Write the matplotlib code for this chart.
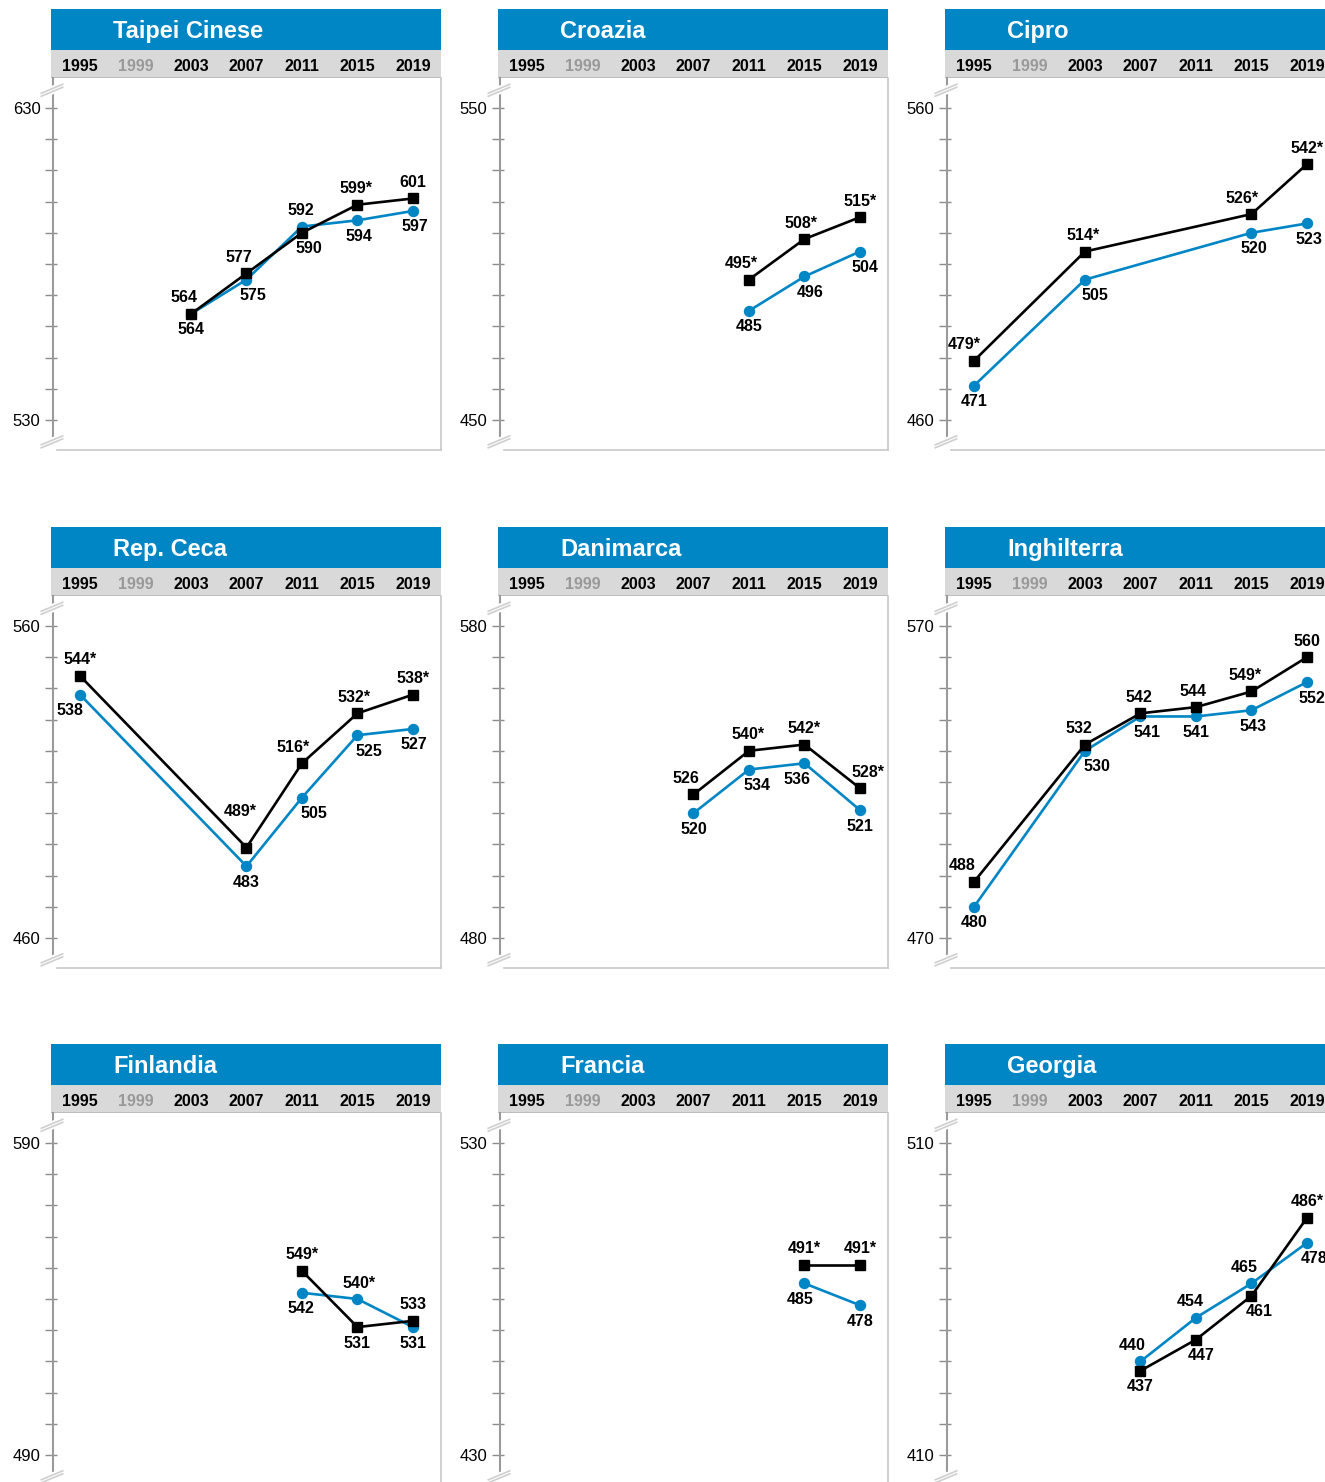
import matplotlib
matplotlib.use('Agg')
import matplotlib.pyplot as plt

plt.rcParams['font.family'] = ['Liberation Sans', 'DejaVu Sans']

years = [1995, 1999, 2003, 2007, 2011, 2015, 2019]
countries = ['Taipei Cinese', 'Croazia', 'Cipro',
             'Rep. Ceca', 'Danimarca', 'Inghilterra',
             'Finlandia', 'Francia', 'Georgia']
y_low = [530, 450, 460, 460, 480, 470, 490, 430, 410]

black_years = [[2003, 2007, 2011, 2015, 2019], [2011, 2015, 2019], [1995, 2003, 2015, 2019],
               [1995, 2007, 2011, 2015, 2019], [2007, 2011, 2015, 2019], [1995, 2003, 2007, 2011, 2015, 2019],
               [2011, 2015, 2019], [2015, 2019], [2007, 2011, 2015, 2019]]
black_vals = [[564, 577, 590, 599, 601], [495, 508, 515], [479, 514, 526, 542],
              [544, 489, 516, 532, 538], [526, 540, 542, 528], [488, 532, 542, 544, 549, 560],
              [549, 531, 533], [491, 491], [437, 447, 461, 486]]
black_labels = [['564', '577', '590', '599*', '601'], ['495*', '508*', '515*'], ['479*', '514*', '526*', '542*'],
                ['544*', '489*', '516*', '532*', '538*'], ['526', '540*', '542*', '528*'],
                ['488', '532', '542', '544', '549*', '560'],
                ['549*', '531', '533'], ['491*', '491*'], ['437', '447', '461', '486*']]

blue_years = black_years
blue_vals = [[564, 575, 592, 594, 597], [485, 496, 504], [471, 505, 520, 523],
             [538, 483, 505, 525, 527], [520, 534, 536, 521], [480, 530, 541, 541, 543, 552],
             [542, 540, 531], [485, 478], [440, 454, 465, 478]]
blue_labels = [['564', '575', '592', '594', '597'], ['485', '496', '504'], ['471', '505', '520', '523'],
               ['538', '483', '505', '525', '527'], ['520', '534', '536', '521'],
               ['480', '530', '541', '541', '543', '552'],
               ['542', '540*', '531'], ['485', '478'], ['440', '454', '465', '478']]

BLUE = '#0086c4'
BAND = '#d9d9d9'
W, H = 1325, 1482
col_left = [51, 498, 945]
row_top = [9, 527, 1044]
PW = 390
HEAD, BANDH, PLOTH = 41, 28, 372
XLIM = (1992.91, 2021.02)
PX_YR = PW / (XLIM[1] - XLIM[0])
PX_UNIT = 3.12

fig = plt.figure(figsize=(W / 100, H / 100), dpi=100)


def box(left, top, w, h):
    return fig.add_axes([left / W, 1 - (top + h) / H, w / W, h / H])


def label_shift(xs, ys, i, above):
    # push label sideways, away from the line segments
    s = 0.0
    if i + 1 < len(xs):
        sl = (ys[i + 1] - ys[i]) * PX_UNIT / ((xs[i + 1] - xs[i]) * PX_YR)
        if above and sl > 0:
            s -= min(sl, 1.2) * 10
        if not above and sl < 0:
            s -= min(-sl, 1.2) * 10
    if i > 0:
        sl = (ys[i - 1] - ys[i]) * PX_UNIT / ((xs[i] - xs[i - 1]) * PX_YR)
        if above and sl > 0:
            s += min(sl, 1.2) * 10
        if not above and sl < 0:
            s += min(-sl, 1.2) * 10
    return s


for k, name in enumerate(countries):
    L = col_left[k % 3]
    T = row_top[k // 3]

    hd = box(L, T, PW, HEAD)
    hd.set_facecolor(BLUE)
    hd.set_xticks([]); hd.set_yticks([])
    for sp in hd.spines.values():
        sp.set_visible(False)
    hd.text(62 / PW, 0.44, name, transform=hd.transAxes, color='white',
            fontsize=17, fontweight='bold', va='center', ha='left')

    bd = box(L, T + HEAD, PW, BANDH)
    bd.set_facecolor(BAND)
    bd.set_xlim(XLIM); bd.set_ylim(0, 1)
    bd.set_xticks([]); bd.set_yticks([])
    for sp in bd.spines.values():
        sp.set_visible(False)
    bd.axhline(0, color='#b8b8b8', lw=1.2)
    for yr in years:
        bd.text(yr, 0.42, str(yr), ha='center', va='center', fontsize=11.5, fontweight='bold',
                color='#999999' if yr == 1999 else 'black')

    ax = box(L, T + HEAD + BANDH, PW, PLOTH)
    lo = y_low[k]
    hi = lo + 100
    ax.set_xlim(XLIM)
    ax.set_ylim(lo - 9.6, hi + 9.6)
    for sp in ax.spines.values():
        sp.set_visible(False)
    ax.set_xticks([])
    ax.set_yticks(range(lo, hi + 1, 10))
    ax.set_yticklabels([str(v) if v in (lo, hi) else '' for v in range(lo, hi + 1, 10)])
    ax.tick_params(axis='y', direction='inout', length=9, width=1, color='#8c8c8c',
                   labelsize=12, pad=3)
    # borders
    ax.plot([1, 1], [0, 1], transform=ax.transAxes, color='#c8c8c8', lw=1.2, clip_on=False)
    ax.plot([0.015, 1], [0, 0], transform=ax.transAxes, color='#c8c8c8', lw=1.2, clip_on=False)
    ax.plot([0.005, 0.005], [0.03, 1], transform=ax.transAxes, color='#9a9a9a', lw=1.5, clip_on=False)
    # axis breaks
    for yb in (0.967, 0.022):
        ax.plot([-0.025, 0.03], [yb - 0.012, yb + 0.012], transform=ax.transAxes,
                color='white', lw=6, clip_on=False, zorder=5, solid_capstyle='butt')
        for d in (-0.004, 0.004):
            ax.plot([-0.025, 0.03], [yb - 0.012 + d, yb + 0.012 + d], transform=ax.transAxes,
                    color='#cfcfcf', lw=1.2, clip_on=False, zorder=6)

    bx, bv, bl = black_years[k], black_vals[k], black_labels[k]
    ux, uv, ul = blue_years[k], blue_vals[k], blue_labels[k]
    ax.plot(ux, uv, color=BLUE, lw=1.9, marker='o', ms=7.2, zorder=3, clip_on=False)
    ax.plot(bx, bv, color='black', lw=1.9, marker='s', ms=7.8, zorder=4, clip_on=False)

    for i in range(len(bx)):
        black_up = bv[i] >= uv[i]
        for xs, vs, labs, up in ((bx, bv, bl, black_up), (ux, uv, ul, not black_up)):
            dx = label_shift(xs, vs, i, up)
            dy = 16 if up else -16
            # label above a steep valley goes higher, between the two arms
            if up and 0 < i < len(xs) - 1 and vs[i - 1] - vs[i] > 20 and vs[i + 1] - vs[i] > 20:
                dx, dy = -6, 36
            ax.annotate(labs[i], (xs[i], vs[i]), xytext=(dx, dy),
                        textcoords='offset pixels', ha='center', va='center',
                        fontsize=11.5, fontweight='bold', zorder=7, annotation_clip=False)

fig.savefig('out.png', dpi=100)
plt.close()
